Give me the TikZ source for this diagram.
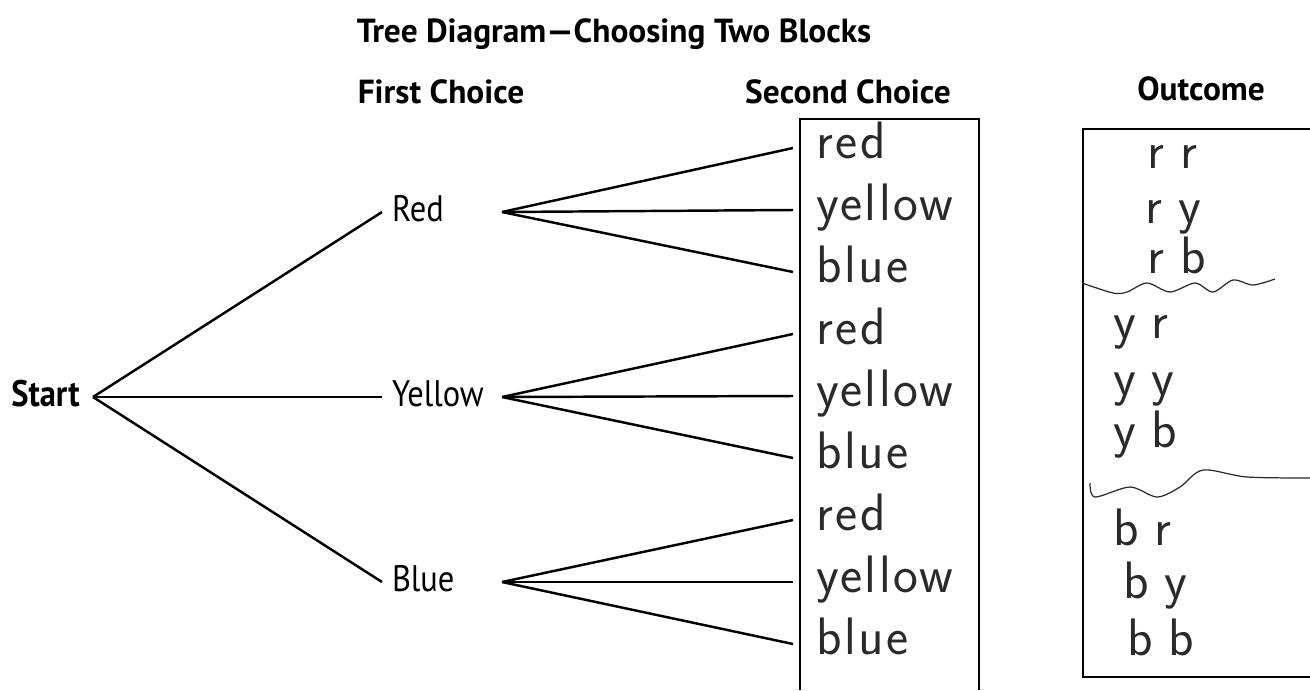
\documentclass[tikz,border=0pt]{standalone}
\usepackage{fontspec}
\usepackage{tikz}
\setmainfont{PT Sans}
\newfontfamily\condfont{PT Sans}[FakeStretch=0.88]
\newfontfamily\handfont{Latin Modern Sans}[LetterSpace=5]
\usetikzlibrary{positioning}
\definecolor{inkgray}{HTML}{2A2A2A}

\begin{document}
\begin{tikzpicture}[x=0.02cm, y=-0.02cm,
    heading/.style={font=\fontsize{19}{22}\selectfont\bfseries, anchor=base},
    choice/.style={font=\condfont\fontsize{21}{24}\selectfont, anchor=west, inner xsep=5.5pt,
        text height=11pt, text depth=0pt},
    hand/.style={font=\handfont\fontsize{30}{32}\selectfont, anchor=west, inner xsep=13pt,
        text height=12.5pt, text depth=0pt, text=inkgray},
    outc/.style={font=\handfont\fontsize{30}{32}\selectfont, anchor=west, inner sep=0pt,
        text height=12.5pt, text depth=0pt, text=inkgray},
    branch/.style={line width=1.4pt},
    boxline/.style={line width=1pt},
    pencil/.style={inkgray, line width=0.7pt}]
    \useasboundingbox (0,0) rectangle (1310,690);
    % Headings
    \node[heading] (title) at (614,42) {Tree Diagram---Choosing Two Blocks};
    \node[heading] (first) at (441,103) {First Choice};
    \node[heading] (second) at (848,103) {Second Choice};
    \node[heading] (outcome) at (1201,100) {Outcome};
    % Answer boxes
    \draw[boxline] (800,690) -- (800,119) -- (979,119) -- (979,690);
    \draw[boxline] (1320,129) -- (1083,129) -- (1083,677) -- (1320,677);
    % First choice
    \node[choice, anchor=east, inner xsep=7.4pt] (start) at (93,397) {\bfseries Start};
    \foreach \n/\t/\y in {red/Red/212, yellow/Yellow/397, blue/Blue/582} {
        \node[choice] (\n) at (382,\y) {\t};
        \draw[branch] (start.east) -- (\n.west);
        \coordinate (\n-fork) at (502,\y);
    }
    % Second choice, written in by hand
    \foreach \n/\y in {red/210, yellow/396, blue/582} {
        \foreach \w [count=\k from -1] in {red, yellow, blue} {
            \node[hand] (\n-\w) at (793,\y+62*\k) {\w};
            \draw[branch] (\n-fork) -- (\n-\w.west);
        }
    }
    % Outcomes
    \foreach \a/\b/\x/\y in {r/r/1147/158, r/y/1145/213, r/b/1147/263,
        y/r/1113/328, y/y/1113/385, y/b/1113/437,
        b/r/1113/535, b/y/1123/588, b/b/1127/645}
        \node[outc] (\a\b) at (\x,\y) {\a\hspace{9pt}\b};
    \draw[pencil] plot[smooth] coordinates {(1082,283) (1113,293) (1127,292) (1147,283)
        (1170,292) (1195,283) (1213,292) (1233,280) (1253,285) (1275,279)};
    \draw[pencil] plot[smooth] coordinates {(1090,483) (1095,497) (1130,487) (1157,497)
        (1180,487) (1203,470) (1247,477) (1312,478)};
\end{tikzpicture}
\end{document}
